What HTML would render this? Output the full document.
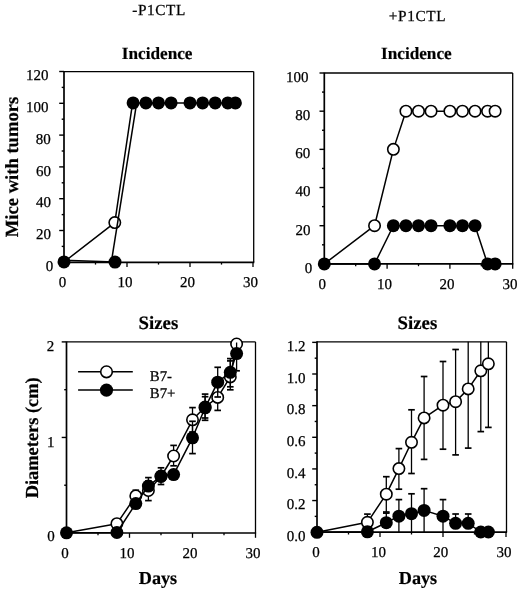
<!DOCTYPE html>
<html><head><meta charset="utf-8"><style>
html,body{margin:0;padding:0;background:#fff;}
svg{display:block;}
text{text-rendering:geometricPrecision;font-family:"Liberation Serif",serif;fill:#000;stroke:#000;stroke-width:0.25px;}
text[font-weight=bold]{stroke-width:0.2px;}
svg{filter:grayscale(1) blur(0.3px);}
</style></head><body>
<svg width="520" height="591" viewBox="0 0 520 591" stroke="#000" stroke-linecap="butt">
<rect width="520" height="591" fill="#fff" stroke="none"/>
<line x1="64" y1="71.6" x2="253.7" y2="71.6" stroke-width="1.3"/>
<line x1="253.7" y1="71.6" x2="253.7" y2="262.3" stroke-width="1.3"/>
<line x1="64" y1="71.1" x2="64" y2="263.1" stroke-width="1.7"/>
<line x1="63.2" y1="262.3" x2="254.3" y2="262.3" stroke-width="1.7"/>
<line x1="64" y1="262.3" x2="64" y2="267.1" stroke-width="1.3"/>
<line x1="127" y1="262.3" x2="127" y2="267.1" stroke-width="1.3"/>
<line x1="190" y1="262.3" x2="190" y2="267.1" stroke-width="1.3"/>
<line x1="253" y1="262.3" x2="253" y2="267.1" stroke-width="1.3"/>
<line x1="95.5" y1="262.3" x2="95.5" y2="264.6" stroke-width="1.3"/>
<line x1="158.5" y1="262.3" x2="158.5" y2="264.6" stroke-width="1.3"/>
<line x1="221.5" y1="262.3" x2="221.5" y2="264.6" stroke-width="1.3"/>
<line x1="64" y1="262.3" x2="59.2" y2="262.3" stroke-width="1.4"/>
<line x1="64" y1="230.5" x2="59.2" y2="230.5" stroke-width="1.4"/>
<line x1="64" y1="198.7" x2="59.2" y2="198.7" stroke-width="1.4"/>
<line x1="64" y1="166.9" x2="59.2" y2="166.9" stroke-width="1.4"/>
<line x1="64" y1="135.1" x2="59.2" y2="135.1" stroke-width="1.4"/>
<line x1="64" y1="103.3" x2="59.2" y2="103.3" stroke-width="1.4"/>
<line x1="64" y1="71.5" x2="59.2" y2="71.5" stroke-width="1.4"/>
<line x1="64" y1="246.4" x2="61.7" y2="246.4" stroke-width="1.4"/>
<line x1="64" y1="214.6" x2="61.7" y2="214.6" stroke-width="1.4"/>
<line x1="64" y1="182.8" x2="61.7" y2="182.8" stroke-width="1.4"/>
<line x1="64" y1="151" x2="61.7" y2="151" stroke-width="1.4"/>
<line x1="64" y1="119.2" x2="61.7" y2="119.2" stroke-width="1.4"/>
<line x1="64" y1="87.4" x2="61.7" y2="87.4" stroke-width="1.4"/>
<polyline points="64,262 114.8,222.6 132.6,102.9" fill="none" stroke-width="1.5" stroke-linejoin="round"/>
<circle cx="114.8" cy="222.6" r="5.7" fill="#fff" stroke-width="1.6"/>
<polyline points="64,260.3 115,262.1" fill="none" stroke-width="1.5" stroke-linejoin="round"/>
<polyline points="111.3,262.3 136.6,103.3" fill="none" stroke-width="1.5" stroke-linejoin="round"/>
<polyline points="133.1,102.9 145.9,102.9 158.5,102.9 171.1,102.9 190,102.9 202.6,102.9 215.2,102.9 227.8,102.9 235.36,102.9" fill="none" stroke-width="1.5" stroke-linejoin="round"/>
<circle cx="64" cy="261.9" r="6.5" fill="#000" stroke="none"/>
<circle cx="115" cy="262.1" r="6.5" fill="#000" stroke="none"/>
<circle cx="133.1" cy="102.9" r="6.5" fill="#000" stroke="none"/>
<circle cx="145.9" cy="102.9" r="6.5" fill="#000" stroke="none"/>
<circle cx="158.5" cy="102.9" r="6.5" fill="#000" stroke="none"/>
<circle cx="171.1" cy="102.9" r="6.5" fill="#000" stroke="none"/>
<circle cx="190" cy="102.9" r="6.5" fill="#000" stroke="none"/>
<circle cx="202.6" cy="102.9" r="6.5" fill="#000" stroke="none"/>
<circle cx="215.2" cy="102.9" r="6.5" fill="#000" stroke="none"/>
<circle cx="227.8" cy="102.9" r="6.5" fill="#000" stroke="none"/>
<circle cx="235.36" cy="102.9" r="6.5" fill="#000" stroke="none"/>
<text id="tlx0" x="62.5" y="287.2" font-size="15" text-anchor="middle">0</text>
<text id="tlx10" x="124.9" y="287.2" font-size="15" text-anchor="middle">10</text>
<text id="tlx20" x="187.4" y="287.2" font-size="15" text-anchor="middle">20</text>
<text id="tlx30" x="250.5" y="287.2" font-size="15" text-anchor="middle">30</text>
<text id="tly0" x="53.2" y="270.9" font-size="15" text-anchor="end">0</text>
<text id="tly20" x="51" y="239.1" font-size="15" text-anchor="end">20</text>
<text id="tly40" x="51" y="207.3" font-size="15" text-anchor="end">40</text>
<text id="tly60" x="51" y="175.5" font-size="15" text-anchor="end">60</text>
<text id="tly80" x="50.8" y="143.7" font-size="15" text-anchor="end">80</text>
<text id="tly100" x="48.4" y="111.9" font-size="15" text-anchor="end">100</text>
<text id="tly120" x="48.4" y="80.1" font-size="15" text-anchor="end">120</text>
<line x1="324.3" y1="73" x2="512.7" y2="73" stroke-width="1.3"/>
<line x1="512.7" y1="73" x2="512.7" y2="263.9" stroke-width="1.3"/>
<line x1="324.3" y1="72.5" x2="324.3" y2="264.7" stroke-width="1.7"/>
<line x1="323.5" y1="263.9" x2="513.3" y2="263.9" stroke-width="1.7"/>
<line x1="324.3" y1="263.9" x2="324.3" y2="268.7" stroke-width="1.3"/>
<line x1="387.1" y1="263.9" x2="387.1" y2="268.7" stroke-width="1.3"/>
<line x1="449.9" y1="263.9" x2="449.9" y2="268.7" stroke-width="1.3"/>
<line x1="512.7" y1="263.9" x2="512.7" y2="268.7" stroke-width="1.3"/>
<line x1="355.7" y1="263.9" x2="355.7" y2="266.2" stroke-width="1.3"/>
<line x1="418.5" y1="263.9" x2="418.5" y2="266.2" stroke-width="1.3"/>
<line x1="481.3" y1="263.9" x2="481.3" y2="266.2" stroke-width="1.3"/>
<line x1="324.3" y1="263.9" x2="319.5" y2="263.9" stroke-width="1.4"/>
<line x1="324.3" y1="225.72" x2="319.5" y2="225.72" stroke-width="1.4"/>
<line x1="324.3" y1="187.54" x2="319.5" y2="187.54" stroke-width="1.4"/>
<line x1="324.3" y1="149.36" x2="319.5" y2="149.36" stroke-width="1.4"/>
<line x1="324.3" y1="111.18" x2="319.5" y2="111.18" stroke-width="1.4"/>
<line x1="324.3" y1="73" x2="319.5" y2="73" stroke-width="1.4"/>
<line x1="324.3" y1="244.81" x2="322" y2="244.81" stroke-width="1.4"/>
<line x1="324.3" y1="206.63" x2="322" y2="206.63" stroke-width="1.4"/>
<line x1="324.3" y1="168.45" x2="322" y2="168.45" stroke-width="1.4"/>
<line x1="324.3" y1="130.27" x2="322" y2="130.27" stroke-width="1.4"/>
<line x1="324.3" y1="92.09" x2="322" y2="92.09" stroke-width="1.4"/>
<polyline points="324.3,263.9 374.54,225.72 393.38,149.36 405.94,111.18 418.5,111.18 431.06,111.18 449.9,111.18 462.46,111.18 475.02,111.18 487.58,111.18 495.12,111.18" fill="none" stroke-width="1.5" stroke-linejoin="round"/>
<circle cx="374.54" cy="225.72" r="5.7" fill="#fff" stroke-width="1.6"/>
<circle cx="393.38" cy="149.36" r="5.7" fill="#fff" stroke-width="1.6"/>
<circle cx="405.94" cy="111.18" r="5.7" fill="#fff" stroke-width="1.6"/>
<circle cx="418.5" cy="111.18" r="5.7" fill="#fff" stroke-width="1.6"/>
<circle cx="431.06" cy="111.18" r="5.7" fill="#fff" stroke-width="1.6"/>
<circle cx="449.9" cy="111.18" r="5.7" fill="#fff" stroke-width="1.6"/>
<circle cx="462.46" cy="111.18" r="5.7" fill="#fff" stroke-width="1.6"/>
<circle cx="475.02" cy="111.18" r="5.7" fill="#fff" stroke-width="1.6"/>
<circle cx="487.58" cy="111.18" r="5.7" fill="#fff" stroke-width="1.6"/>
<circle cx="495.12" cy="111.18" r="5.7" fill="#fff" stroke-width="1.6"/>
<polyline points="324.3,263.9 374.54,263.9 393.38,225.72 405.94,225.72 418.5,225.72 431.06,225.72 449.9,225.72 462.46,225.72 475.02,225.72 487.58,263.9 495.12,263.9" fill="none" stroke-width="1.5" stroke-linejoin="round"/>
<circle cx="324.3" cy="263.9" r="6.5" fill="#000" stroke="none"/>
<circle cx="374.54" cy="263.9" r="6.5" fill="#000" stroke="none"/>
<circle cx="393.38" cy="225.72" r="6.5" fill="#000" stroke="none"/>
<circle cx="405.94" cy="225.72" r="6.5" fill="#000" stroke="none"/>
<circle cx="418.5" cy="225.72" r="6.5" fill="#000" stroke="none"/>
<circle cx="431.06" cy="225.72" r="6.5" fill="#000" stroke="none"/>
<circle cx="449.9" cy="225.72" r="6.5" fill="#000" stroke="none"/>
<circle cx="462.46" cy="225.72" r="6.5" fill="#000" stroke="none"/>
<circle cx="475.02" cy="225.72" r="6.5" fill="#000" stroke="none"/>
<circle cx="487.58" cy="263.9" r="6.5" fill="#000" stroke="none"/>
<circle cx="495.12" cy="263.9" r="6.5" fill="#000" stroke="none"/>
<text id="trx0" x="322.2" y="288.7" font-size="15" text-anchor="middle">0</text>
<text id="trx10" x="384.4" y="288.7" font-size="15" text-anchor="middle">10</text>
<text id="trx20" x="447" y="288.7" font-size="15" text-anchor="middle">20</text>
<text id="trx30" x="510.1" y="288.7" font-size="15" text-anchor="middle">30</text>
<text id="try0" x="312.2" y="272.8" font-size="15" text-anchor="end">0</text>
<text id="try20" x="310.4" y="234.62" font-size="15" text-anchor="end">20</text>
<text id="try40" x="310.4" y="196.44" font-size="15" text-anchor="end">40</text>
<text id="try60" x="310.2" y="158.26" font-size="15" text-anchor="end">60</text>
<text id="try80" x="310.2" y="120.08" font-size="15" text-anchor="end">80</text>
<text id="try100" x="308.4" y="81.9" font-size="15" text-anchor="end">100</text>
<line x1="66.5" y1="341.9" x2="255.5" y2="341.9" stroke-width="1.3"/>
<line x1="255.5" y1="341.9" x2="255.5" y2="533" stroke-width="1.3"/>
<line x1="66.5" y1="341.4" x2="66.5" y2="533.8" stroke-width="1.7"/>
<line x1="65.7" y1="533" x2="256.1" y2="533" stroke-width="1.7"/>
<line x1="66.5" y1="533" x2="66.5" y2="537.8" stroke-width="1.3"/>
<line x1="129.5" y1="533" x2="129.5" y2="537.8" stroke-width="1.3"/>
<line x1="192.5" y1="533" x2="192.5" y2="537.8" stroke-width="1.3"/>
<line x1="255.5" y1="533" x2="255.5" y2="537.8" stroke-width="1.3"/>
<line x1="98" y1="533" x2="98" y2="535.3" stroke-width="1.3"/>
<line x1="161" y1="533" x2="161" y2="535.3" stroke-width="1.3"/>
<line x1="224" y1="533" x2="224" y2="535.3" stroke-width="1.3"/>
<line x1="66.5" y1="533" x2="61.7" y2="533" stroke-width="1.4"/>
<line x1="66.5" y1="437.45" x2="61.7" y2="437.45" stroke-width="1.4"/>
<line x1="66.5" y1="341.9" x2="61.7" y2="341.9" stroke-width="1.4"/>
<line x1="66.5" y1="485.23" x2="64.2" y2="485.23" stroke-width="1.4"/>
<line x1="66.5" y1="389.68" x2="64.2" y2="389.68" stroke-width="1.4"/>
<polyline points="66.5,532.8 116.9,523.7 135.8,495.9 148.4,490.5 161,476.5 173.6,456 192.5,419.8 205.1,407 217.7,397.4 230.3,376.9 236.6,344" fill="none" stroke-width="1.5" stroke-linejoin="round"/>
<line x1="116.9" y1="519.8" x2="116.9" y2="523.7" stroke-width="1.3"/>
<line x1="113.6" y1="519.8" x2="120.2" y2="519.8" stroke-width="1.7"/>
<line x1="135.8" y1="490.2" x2="135.8" y2="495.9" stroke-width="1.3"/>
<line x1="132.5" y1="490.2" x2="139.1" y2="490.2" stroke-width="1.7"/>
<line x1="148.4" y1="481" x2="148.4" y2="490.5" stroke-width="1.3"/>
<line x1="145.1" y1="481" x2="151.7" y2="481" stroke-width="1.7"/>
<line x1="148.4" y1="490.5" x2="148.4" y2="500.6" stroke-width="1.3"/>
<line x1="145.1" y1="500.6" x2="151.7" y2="500.6" stroke-width="1.7"/>
<line x1="173.6" y1="445.4" x2="173.6" y2="456" stroke-width="1.3"/>
<line x1="170.3" y1="445.4" x2="176.9" y2="445.4" stroke-width="1.7"/>
<line x1="173.6" y1="456" x2="173.6" y2="465.8" stroke-width="1.3"/>
<line x1="170.3" y1="465.8" x2="176.9" y2="465.8" stroke-width="1.7"/>
<line x1="192.5" y1="407.6" x2="192.5" y2="419.8" stroke-width="1.3"/>
<line x1="189.2" y1="407.6" x2="195.8" y2="407.6" stroke-width="1.7"/>
<line x1="192.5" y1="419.8" x2="192.5" y2="432" stroke-width="1.3"/>
<line x1="189.2" y1="432" x2="195.8" y2="432" stroke-width="1.7"/>
<line x1="205.1" y1="396.7" x2="205.1" y2="407" stroke-width="1.3"/>
<line x1="201.8" y1="396.7" x2="208.4" y2="396.7" stroke-width="1.7"/>
<line x1="205.1" y1="407" x2="205.1" y2="418" stroke-width="1.3"/>
<line x1="201.8" y1="418" x2="208.4" y2="418" stroke-width="1.7"/>
<line x1="217.7" y1="384.5" x2="217.7" y2="397.4" stroke-width="1.3"/>
<line x1="214.4" y1="384.5" x2="221" y2="384.5" stroke-width="1.7"/>
<line x1="217.7" y1="397.4" x2="217.7" y2="410.4" stroke-width="1.3"/>
<line x1="214.4" y1="410.4" x2="221" y2="410.4" stroke-width="1.7"/>
<line x1="230.3" y1="360.9" x2="230.3" y2="376.9" stroke-width="1.3"/>
<line x1="227" y1="360.9" x2="233.6" y2="360.9" stroke-width="1.7"/>
<line x1="230.3" y1="376.9" x2="230.3" y2="386.8" stroke-width="1.3"/>
<line x1="227" y1="386.8" x2="233.6" y2="386.8" stroke-width="1.7"/>
<circle cx="116.9" cy="523.7" r="5.7" fill="#fff" stroke-width="1.6"/>
<circle cx="135.8" cy="495.9" r="5.7" fill="#fff" stroke-width="1.6"/>
<circle cx="148.4" cy="490.5" r="5.7" fill="#fff" stroke-width="1.6"/>
<circle cx="161" cy="476.5" r="5.7" fill="#fff" stroke-width="1.6"/>
<circle cx="173.6" cy="456" r="5.7" fill="#fff" stroke-width="1.6"/>
<circle cx="192.5" cy="419.8" r="5.7" fill="#fff" stroke-width="1.6"/>
<circle cx="205.1" cy="407" r="5.7" fill="#fff" stroke-width="1.6"/>
<circle cx="217.7" cy="397.4" r="5.7" fill="#fff" stroke-width="1.6"/>
<circle cx="230.3" cy="376.9" r="5.7" fill="#fff" stroke-width="1.6"/>
<circle cx="236.6" cy="344" r="5.7" fill="#fff" stroke-width="1.6"/>
<polyline points="66.5,532.8 116.9,532.5 135.8,503.6 148.4,486.1 161,476.1 173.6,474.6 192.5,437.8 205.1,407.8 217.7,382.2 230.3,372.3 236.6,353.6" fill="none" stroke-width="1.5" stroke-linejoin="round"/>
<line x1="148.4" y1="477.6" x2="148.4" y2="486.1" stroke-width="1.3"/>
<line x1="145.1" y1="477.6" x2="151.7" y2="477.6" stroke-width="1.7"/>
<line x1="161" y1="467.8" x2="161" y2="476.1" stroke-width="1.3"/>
<line x1="157.7" y1="467.8" x2="164.3" y2="467.8" stroke-width="1.7"/>
<line x1="161" y1="476.1" x2="161" y2="484.5" stroke-width="1.3"/>
<line x1="157.7" y1="484.5" x2="164.3" y2="484.5" stroke-width="1.7"/>
<line x1="192.5" y1="421.3" x2="192.5" y2="437.8" stroke-width="1.3"/>
<line x1="189.2" y1="421.3" x2="195.8" y2="421.3" stroke-width="1.7"/>
<line x1="192.5" y1="437.8" x2="192.5" y2="453.6" stroke-width="1.3"/>
<line x1="189.2" y1="453.6" x2="195.8" y2="453.6" stroke-width="1.7"/>
<line x1="205.1" y1="394.1" x2="205.1" y2="407.8" stroke-width="1.3"/>
<line x1="201.8" y1="394.1" x2="208.4" y2="394.1" stroke-width="1.7"/>
<line x1="205.1" y1="407.8" x2="205.1" y2="420.3" stroke-width="1.3"/>
<line x1="201.8" y1="420.3" x2="208.4" y2="420.3" stroke-width="1.7"/>
<line x1="217.7" y1="367.3" x2="217.7" y2="382.2" stroke-width="1.3"/>
<line x1="214.4" y1="367.3" x2="221" y2="367.3" stroke-width="1.7"/>
<line x1="217.7" y1="382.2" x2="217.7" y2="397" stroke-width="1.3"/>
<line x1="214.4" y1="397" x2="221" y2="397" stroke-width="1.7"/>
<line x1="230.3" y1="358.6" x2="230.3" y2="372.3" stroke-width="1.3"/>
<line x1="227" y1="358.6" x2="233.6" y2="358.6" stroke-width="1.7"/>
<line x1="230.3" y1="372.3" x2="230.3" y2="389.8" stroke-width="1.3"/>
<line x1="227" y1="389.8" x2="233.6" y2="389.8" stroke-width="1.7"/>
<line x1="236.6" y1="342.5" x2="236.6" y2="353.6" stroke-width="1.3"/>
<line x1="236.6" y1="353.6" x2="236.6" y2="370.8" stroke-width="1.3"/>
<line x1="233.3" y1="370.8" x2="239.9" y2="370.8" stroke-width="1.7"/>
<circle cx="66.5" cy="532.8" r="6.5" fill="#000" stroke="none"/>
<circle cx="116.9" cy="532.5" r="6.5" fill="#000" stroke="none"/>
<circle cx="135.8" cy="503.6" r="6.5" fill="#000" stroke="none"/>
<circle cx="148.4" cy="486.1" r="6.5" fill="#000" stroke="none"/>
<circle cx="161" cy="476.1" r="6.5" fill="#000" stroke="none"/>
<circle cx="173.6" cy="474.6" r="6.5" fill="#000" stroke="none"/>
<circle cx="192.5" cy="437.8" r="6.5" fill="#000" stroke="none"/>
<circle cx="205.1" cy="407.8" r="6.5" fill="#000" stroke="none"/>
<circle cx="217.7" cy="382.2" r="6.5" fill="#000" stroke="none"/>
<circle cx="230.3" cy="372.3" r="6.5" fill="#000" stroke="none"/>
<circle cx="236.6" cy="353.6" r="6.5" fill="#000" stroke="none"/>
<line x1="78.1" y1="371.8" x2="132.8" y2="371.8" stroke-width="1.5"/>
<line x1="78.1" y1="390.1" x2="132.8" y2="390.1" stroke-width="1.5"/>
<circle cx="106.5" cy="371.8" r="5.8" fill="#fff" stroke-width="1.6"/>
<circle cx="106.5" cy="390.1" r="6.6" fill="#000" stroke="none"/>
<text id="b7m" x="149.8" y="380.8" font-size="14.8" text-anchor="start">B7-</text>
<text id="b7p" x="149.8" y="398" font-size="14.8" text-anchor="start">B7+</text>
<text id="blx0" x="65.1" y="557.5" font-size="15" text-anchor="middle">0</text>
<text id="blx10" x="127" y="557.5" font-size="15" text-anchor="middle">10</text>
<text id="blx20" x="190" y="557.5" font-size="15" text-anchor="middle">20</text>
<text id="blx30" x="253" y="557.5" font-size="15" text-anchor="middle">30</text>
<text id="bly0" x="54.8" y="541.2" font-size="15" text-anchor="end">0</text>
<text id="bly1" x="54.4" y="446.5" font-size="15" text-anchor="end">1</text>
<text id="bly2" x="54.2" y="350.9" font-size="15" text-anchor="end">2</text>
<line x1="317" y1="341.8" x2="506.5" y2="341.8" stroke-width="1.3"/>
<line x1="506.5" y1="341.8" x2="506.5" y2="532.2" stroke-width="1.3"/>
<line x1="317" y1="341.3" x2="317" y2="533" stroke-width="1.7"/>
<line x1="316.2" y1="532.2" x2="507.1" y2="532.2" stroke-width="1.7"/>
<line x1="317" y1="532.2" x2="317" y2="537" stroke-width="1.3"/>
<line x1="380" y1="532.2" x2="380" y2="537" stroke-width="1.3"/>
<line x1="443" y1="532.2" x2="443" y2="537" stroke-width="1.3"/>
<line x1="506" y1="532.2" x2="506" y2="537" stroke-width="1.3"/>
<line x1="348.5" y1="532.2" x2="348.5" y2="534.5" stroke-width="1.3"/>
<line x1="411.5" y1="532.2" x2="411.5" y2="534.5" stroke-width="1.3"/>
<line x1="474.5" y1="532.2" x2="474.5" y2="534.5" stroke-width="1.3"/>
<line x1="317" y1="532.2" x2="312.2" y2="532.2" stroke-width="1.4"/>
<line x1="317" y1="500.56" x2="312.2" y2="500.56" stroke-width="1.4"/>
<line x1="317" y1="468.92" x2="312.2" y2="468.92" stroke-width="1.4"/>
<line x1="317" y1="437.28" x2="312.2" y2="437.28" stroke-width="1.4"/>
<line x1="317" y1="405.64" x2="312.2" y2="405.64" stroke-width="1.4"/>
<line x1="317" y1="374" x2="312.2" y2="374" stroke-width="1.4"/>
<line x1="317" y1="342.36" x2="312.2" y2="342.36" stroke-width="1.4"/>
<line x1="317" y1="516.38" x2="314.7" y2="516.38" stroke-width="1.4"/>
<line x1="317" y1="484.74" x2="314.7" y2="484.74" stroke-width="1.4"/>
<line x1="317" y1="453.1" x2="314.7" y2="453.1" stroke-width="1.4"/>
<line x1="317" y1="421.46" x2="314.7" y2="421.46" stroke-width="1.4"/>
<line x1="317" y1="389.82" x2="314.7" y2="389.82" stroke-width="1.4"/>
<line x1="317" y1="358.18" x2="314.7" y2="358.18" stroke-width="1.4"/>
<polyline points="317,532.3 367.4,522.3 386.3,494.2 398.9,468.6 411.5,442.3 424.1,417.9 443,405.2 455.6,401.7 468.2,388.9 480.8,370.8 488.36,363.8" fill="none" stroke-width="1.5" stroke-linejoin="round"/>
<line x1="367.4" y1="514.1" x2="367.4" y2="522.3" stroke-width="1.3"/>
<line x1="364.1" y1="514.1" x2="370.7" y2="514.1" stroke-width="1.7"/>
<line x1="367.4" y1="522.3" x2="367.4" y2="530.5" stroke-width="1.3"/>
<line x1="364.1" y1="530.5" x2="370.7" y2="530.5" stroke-width="1.7"/>
<line x1="386.3" y1="476.7" x2="386.3" y2="494.2" stroke-width="1.3"/>
<line x1="383" y1="476.7" x2="389.6" y2="476.7" stroke-width="1.7"/>
<line x1="386.3" y1="494.2" x2="386.3" y2="512" stroke-width="1.3"/>
<line x1="383" y1="512" x2="389.6" y2="512" stroke-width="1.7"/>
<line x1="398.9" y1="448.6" x2="398.9" y2="468.6" stroke-width="1.3"/>
<line x1="395.6" y1="448.6" x2="402.2" y2="448.6" stroke-width="1.7"/>
<line x1="398.9" y1="468.6" x2="398.9" y2="489.2" stroke-width="1.3"/>
<line x1="395.6" y1="489.2" x2="402.2" y2="489.2" stroke-width="1.7"/>
<line x1="411.5" y1="409.8" x2="411.5" y2="442.3" stroke-width="1.3"/>
<line x1="408.2" y1="409.8" x2="414.8" y2="409.8" stroke-width="1.7"/>
<line x1="411.5" y1="442.3" x2="411.5" y2="473.5" stroke-width="1.3"/>
<line x1="408.2" y1="473.5" x2="414.8" y2="473.5" stroke-width="1.7"/>
<line x1="424.1" y1="376.5" x2="424.1" y2="417.9" stroke-width="1.3"/>
<line x1="420.8" y1="376.5" x2="427.4" y2="376.5" stroke-width="1.7"/>
<line x1="424.1" y1="417.9" x2="424.1" y2="459.4" stroke-width="1.3"/>
<line x1="420.8" y1="459.4" x2="427.4" y2="459.4" stroke-width="1.7"/>
<line x1="443" y1="361.5" x2="443" y2="405.2" stroke-width="1.3"/>
<line x1="439.7" y1="361.5" x2="446.3" y2="361.5" stroke-width="1.7"/>
<line x1="443" y1="405.2" x2="443" y2="449.2" stroke-width="1.3"/>
<line x1="439.7" y1="449.2" x2="446.3" y2="449.2" stroke-width="1.7"/>
<line x1="455.6" y1="349.5" x2="455.6" y2="401.7" stroke-width="1.3"/>
<line x1="452.3" y1="349.5" x2="458.9" y2="349.5" stroke-width="1.7"/>
<line x1="455.6" y1="401.7" x2="455.6" y2="454.9" stroke-width="1.3"/>
<line x1="452.3" y1="454.9" x2="458.9" y2="454.9" stroke-width="1.7"/>
<line x1="468.2" y1="341.8" x2="468.2" y2="388.9" stroke-width="1.3"/>
<line x1="468.2" y1="388.9" x2="468.2" y2="448.1" stroke-width="1.3"/>
<line x1="464.9" y1="448.1" x2="471.5" y2="448.1" stroke-width="1.7"/>
<line x1="480.8" y1="341.8" x2="480.8" y2="370.8" stroke-width="1.3"/>
<line x1="480.8" y1="370.8" x2="480.8" y2="431.6" stroke-width="1.3"/>
<line x1="477.5" y1="431.6" x2="484.1" y2="431.6" stroke-width="1.7"/>
<line x1="488.36" y1="341.8" x2="488.36" y2="363.8" stroke-width="1.3"/>
<line x1="488.36" y1="363.8" x2="488.36" y2="427.4" stroke-width="1.3"/>
<line x1="485.06" y1="427.4" x2="491.66" y2="427.4" stroke-width="1.7"/>
<circle cx="367.4" cy="522.3" r="5.7" fill="#fff" stroke-width="1.6"/>
<circle cx="386.3" cy="494.2" r="5.7" fill="#fff" stroke-width="1.6"/>
<circle cx="398.9" cy="468.6" r="5.7" fill="#fff" stroke-width="1.6"/>
<circle cx="411.5" cy="442.3" r="5.7" fill="#fff" stroke-width="1.6"/>
<circle cx="424.1" cy="417.9" r="5.7" fill="#fff" stroke-width="1.6"/>
<circle cx="443" cy="405.2" r="5.7" fill="#fff" stroke-width="1.6"/>
<circle cx="455.6" cy="401.7" r="5.7" fill="#fff" stroke-width="1.6"/>
<circle cx="468.2" cy="388.9" r="5.7" fill="#fff" stroke-width="1.6"/>
<circle cx="480.8" cy="370.8" r="5.7" fill="#fff" stroke-width="1.6"/>
<circle cx="488.36" cy="363.8" r="5.7" fill="#fff" stroke-width="1.6"/>
<polyline points="317,532.3 367.4,531.8 386.3,522.7 398.9,516.2 411.5,513.7 424.1,510.4 443,516.2 455.6,523.3 468.2,523.3 480.8,532 488.36,532" fill="none" stroke-width="1.5" stroke-linejoin="round"/>
<line x1="386.3" y1="513.1" x2="386.3" y2="522.7" stroke-width="1.3"/>
<line x1="383" y1="513.1" x2="389.6" y2="513.1" stroke-width="1.7"/>
<line x1="398.9" y1="499.6" x2="398.9" y2="516.2" stroke-width="1.3"/>
<line x1="395.6" y1="499.6" x2="402.2" y2="499.6" stroke-width="1.7"/>
<line x1="398.9" y1="516.2" x2="398.9" y2="532.2" stroke-width="1.3"/>
<line x1="411.5" y1="493.8" x2="411.5" y2="513.7" stroke-width="1.3"/>
<line x1="408.2" y1="493.8" x2="414.8" y2="493.8" stroke-width="1.7"/>
<line x1="411.5" y1="513.7" x2="411.5" y2="532.2" stroke-width="1.3"/>
<line x1="424.1" y1="488.7" x2="424.1" y2="510.4" stroke-width="1.3"/>
<line x1="420.8" y1="488.7" x2="427.4" y2="488.7" stroke-width="1.7"/>
<line x1="424.1" y1="510.4" x2="424.1" y2="532.2" stroke-width="1.3"/>
<line x1="443" y1="499.6" x2="443" y2="516.2" stroke-width="1.3"/>
<line x1="439.7" y1="499.6" x2="446.3" y2="499.6" stroke-width="1.7"/>
<line x1="443" y1="516.2" x2="443" y2="532.2" stroke-width="1.3"/>
<line x1="455.6" y1="514" x2="455.6" y2="523.3" stroke-width="1.3"/>
<line x1="452.3" y1="514" x2="458.9" y2="514" stroke-width="1.7"/>
<line x1="468.2" y1="514" x2="468.2" y2="523.3" stroke-width="1.3"/>
<line x1="464.9" y1="514" x2="471.5" y2="514" stroke-width="1.7"/>
<circle cx="317" cy="532.3" r="6.5" fill="#000" stroke="none"/>
<circle cx="367.4" cy="531.8" r="6.5" fill="#000" stroke="none"/>
<circle cx="386.3" cy="522.7" r="6.5" fill="#000" stroke="none"/>
<circle cx="398.9" cy="516.2" r="6.5" fill="#000" stroke="none"/>
<circle cx="411.5" cy="513.7" r="6.5" fill="#000" stroke="none"/>
<circle cx="424.1" cy="510.4" r="6.5" fill="#000" stroke="none"/>
<circle cx="443" cy="516.2" r="6.5" fill="#000" stroke="none"/>
<circle cx="455.6" cy="523.3" r="6.5" fill="#000" stroke="none"/>
<circle cx="468.2" cy="523.3" r="6.5" fill="#000" stroke="none"/>
<circle cx="480.8" cy="532" r="6.5" fill="#000" stroke="none"/>
<circle cx="488.36" cy="532" r="6.5" fill="#000" stroke="none"/>
<text id="brx0" x="316.1" y="556.8" font-size="15" text-anchor="middle">0</text>
<text id="brx10" x="378.6" y="556.8" font-size="15" text-anchor="middle">10</text>
<text id="brx20" x="440.7" y="556.8" font-size="15" text-anchor="middle">20</text>
<text id="brx30" x="503.9" y="556.8" font-size="15" text-anchor="middle">30</text>
<text id="bry0.0" x="305.6" y="541" font-size="15" text-anchor="end">0.0</text>
<text id="bry0.2" x="305.6" y="509.36" font-size="15" text-anchor="end">0.2</text>
<text id="bry0.4" x="305.6" y="477.72" font-size="15" text-anchor="end">0.4</text>
<text id="bry0.6" x="305.6" y="446.08" font-size="15" text-anchor="end">0.6</text>
<text id="bry0.8" x="305.6" y="414.44" font-size="15" text-anchor="end">0.8</text>
<text id="bry1.0" x="305.6" y="382.8" font-size="15" text-anchor="end">1.0</text>
<text id="bry1.2" x="305.6" y="351.16" font-size="15" text-anchor="end">1.2</text>
<text id="t1" x="132.2" y="14.5" font-size="15.3" text-anchor="start" letter-spacing="0.6">-P1CTL</text>
<text id="t2" x="388.8" y="20.9" font-size="15.3" text-anchor="start" letter-spacing="0.6">+P1CTL</text>
<text id="inc1" x="121.8" y="58.9" font-size="17.2" text-anchor="start" font-weight="bold">Incidence</text>
<text id="inc2" x="381" y="59" font-size="17.2" text-anchor="start" font-weight="bold">Incidence</text>
<text id="sz1" x="138.6" y="329.3" font-size="18.8" text-anchor="start" font-weight="bold">Sizes</text>
<text id="sz2" x="397.6" y="329.3" font-size="18.8" text-anchor="start" font-weight="bold">Sizes</text>
<text id="dy1" x="138.8" y="584.2" font-size="18.2" text-anchor="start" font-weight="bold">Days</text>
<text id="dy2" x="398.8" y="584.1" font-size="18.2" text-anchor="start" font-weight="bold">Days</text>
<text id="ylab1" x="0" y="0" font-size="18.6" text-anchor="middle" font-weight="bold" transform="translate(18.2,167) rotate(-90)">Mice with tumors</text>
<text id="ylab2" x="0" y="0" font-size="18.4" text-anchor="middle" font-weight="bold" transform="translate(38.4,437.8) rotate(-90)">Diameters (cm)</text>
</svg>
</body></html>
